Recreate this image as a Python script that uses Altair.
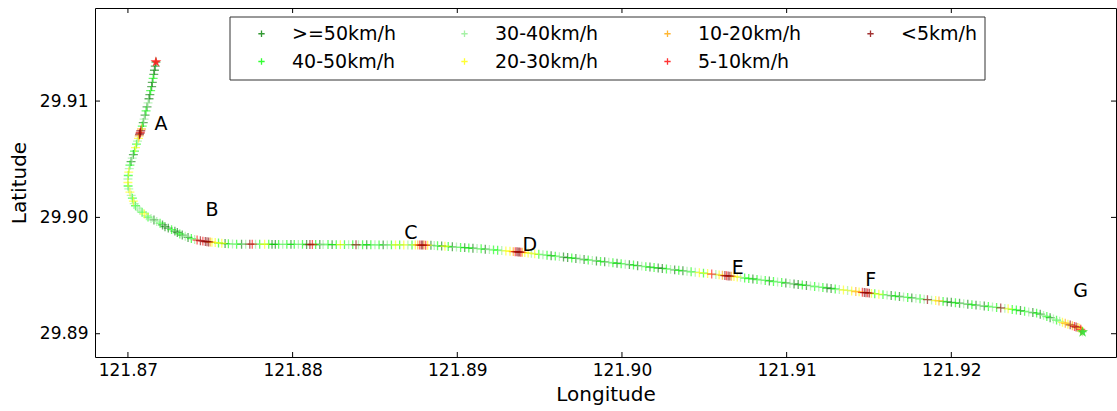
import altair as alt
import pandas as pd

SPEED_LABELS = [">=50km/h", "40-50km/h", "30-40km/h", "20-30km/h", "10-20km/h", "5-10km/h", "<5km/h"]
SPEED_COLORS = ["#008000", "#00ff00", "#90ee90", "#ffff00", "#ffa500", "#ff0000", "#8b0000"]

X_TICKS = [121.87, 121.88, 121.89, 121.90, 121.91, 121.92]
Y_TICKS = [29.89, 29.90, 29.91]

# hook: start -> A -> B
LON1 = [121.87170,121.87166,121.87161,121.87157,121.87153,121.87148,121.87144,121.87138,121.87133,121.87128,
        121.87122,121.87116,121.87110,121.87104,121.87098,121.87093,121.87087,121.87082,121.87078,121.87075,
        121.87073,121.87070,121.87068,121.87064,121.87058,121.87052,121.87046,121.87040,121.87033,121.87026,
        121.87019,121.87012,121.87008,121.87005,121.87002,121.87000,121.87000,121.87001,121.87005,121.87012,
        121.87020,121.87027,121.87033,121.87038,121.87046,121.87058,121.87072,121.87086,121.87100,121.87112,
        121.87122,121.87140,121.87158,121.87175,121.87195,121.87210,121.87225,121.87245,121.87265,121.87285,
        121.87300,121.87315,121.87330,121.87348,121.87365,121.87385,121.87405,121.87420,121.87440,121.87455,
        121.87470,121.87480,121.87490,121.87500,121.87510,121.87530,121.87550,121.87570,121.87590,121.87610]
LAT1 = [29.91336,29.91300,29.91265,29.91230,29.91195,29.91160,29.91125,29.91090,29.91055,29.91020,
        29.90985,29.90950,29.90915,29.90880,29.90845,29.90815,29.90785,29.90760,29.90745,29.90730,
        29.90722,29.90712,29.90700,29.90680,29.90655,29.90630,29.90600,29.90570,29.90540,29.90510,
        29.90480,29.90450,29.90420,29.90390,29.90360,29.90330,29.90300,29.90270,29.90245,29.90218,
        29.90190,29.90165,29.90140,29.90118,29.90100,29.90080,29.90062,29.90045,29.90030,29.90015,
        29.90003,29.89990,29.89978,29.89965,29.89950,29.89935,29.89920,29.89908,29.89895,29.89882,
        29.89870,29.89858,29.89848,29.89838,29.89828,29.89818,29.89810,29.89805,29.89800,29.89796,
        29.89793,29.89791,29.89789,29.89788,29.89787,29.89784,29.89780,29.89778,29.89775,29.89773]
CAT1 = [0,0,0,0,1,0,0,1,0,0, 2,0,1,0,2,0,1,4,6,5, 6,6,4,3,2,1,3,1,0,2, 0,1,2,3,1,2,3,1,2,3,
        2,1,3,2,1,2,2,1,3,2, 1,2,0,2,1,0,0,0,1,0, 0,1,0,2,0,1,2,5,6,5, 6,6,6,4,3,3,1,3,0,1]

# flat stretch B -> C
LON2 = [121.87635,121.87660,121.87690,121.87715,121.87740,121.87755,121.87775,121.87800,121.87830,121.87855,
        121.87875,121.87895,121.87915,121.87940,121.87965,121.87990,121.88010,121.88035,121.88060,121.88085,
        121.88105,121.88120,121.88140,121.88165,121.88185,121.88215,121.88240,121.88265,121.88290,121.88315,
        121.88340,121.88365,121.88385,121.88400,121.88425,121.88450,121.88475,121.88500,121.88525,121.88550,
        121.88575,121.88600,121.88625,121.88650,121.88675,121.88700,121.88725,121.88745]
LAT2 = [29.89771,29.89770,29.89770,29.89770,29.89770,29.89770,29.89769,29.89769,29.89769,29.89769,
        29.89768,29.89768,29.89768,29.89768,29.89768,29.89768,29.89768,29.89768,29.89768,29.89767,
        29.89767,29.89767,29.89767,29.89767,29.89767,29.89767,29.89766,29.89766,29.89766,29.89766,
        29.89766,29.89766,29.89765,29.89765,29.89765,29.89765,29.89765,29.89765,29.89764,29.89764,
        29.89764,29.89764,29.89764,29.89764,29.89763,29.89763,29.89763,29.89763]
CAT2 = [2,1,0,2,6,5,2,1,3,1, 0,0,1,2,1,0,1,2,1,0, 6,5,1,0,2,1,0,1,3,1, 2,1,6,2,1,0,1,2,1,0, 2,1,3,1,3,2,1,3]

# C -> D
LON3 = [121.88760,121.88772,121.88782,121.88790,121.88798,121.88808,121.88820,121.88840,121.88860,121.88880,
        121.88905,121.88925,121.88945,121.88970,121.88995,121.89020,121.89045,121.89070,121.89095,121.89120,
        121.89145,121.89170,121.89195,121.89220,121.89245,121.89270,121.89295,121.89320,121.89340,121.89352,
        121.89362,121.89370,121.89378,121.89386,121.89395]
LAT3 = [29.89763,29.89762,29.89762,29.89762,29.89762,29.89761,29.89761,29.89760,29.89758,29.89756,
        29.89754,29.89752,29.89750,29.89747,29.89745,29.89742,29.89740,29.89737,29.89735,29.89732,
        29.89730,29.89727,29.89724,29.89721,29.89718,29.89715,29.89712,29.89709,29.89706,29.89705,
        29.89704,29.89703,29.89702,29.89701,29.89700]
CAT3 = [4,5,6,6,4,5,3,0,2,1, 0,3,1,0,2,1,0,1,0,2, 1,0,2,1,1,2,3,3,4,5, 6,6,6,5,4]

# D -> E
LON4 = [121.89410,121.89430,121.89450,121.89470,121.89495,121.89520,121.89545,121.89570,121.89595,121.89620,
        121.89645,121.89670,121.89695,121.89720,121.89745,121.89770,121.89795,121.89820,121.89845,121.89870,
        121.89895,121.89920,121.89945,121.89970,121.89995,121.90020,121.90045,121.90070,121.90095,121.90120,
        121.90145,121.90170,
        121.90195,121.90220,121.90245,121.90270,121.90295,121.90320,121.90345,121.90370,121.90395,121.90420,
        121.90445,121.90470,121.90495,121.90520,121.90545,121.90570,121.90590,121.90610,121.90625,121.90635,
        121.90645,121.90655,121.90665,121.90680,121.90700,121.90720]
LAT4 = [29.89697,29.89694,29.89691,29.89687,29.89683,29.89679,29.89675,29.89671,29.89667,29.89663,
        29.89659,29.89655,29.89651,29.89647,29.89642,29.89638,29.89634,29.89630,29.89626,29.89622,
        29.89618,29.89614,29.89610,29.89606,29.89602,29.89598,29.89594,29.89590,29.89585,29.89581,
        29.89577,29.89573,
        29.89569,29.89565,29.89561,29.89557,29.89553,29.89549,29.89545,29.89541,29.89537,29.89533,
        29.89529,29.89525,29.89521,29.89517,29.89513,29.89509,29.89506,29.89502,29.89500,29.89498,
        29.89497,29.89495,29.89494,29.89491,29.89488,29.89485]
CAT4 = [3,3,2,3,1,2,1,0,1,2, 0,0,1,0,2,0,1,2,0,1, 0,2,1,0,1,2,0,1,0,2, 1,0,
        1,0,0,1,2,0,1,0,2,1, 2,3,1,3,5,2,3,4,6,5, 6,6,4,3,3,2]

# E -> F
LON5 = [121.90745,121.90770,121.90795,121.90820,121.90845,121.90870,121.90895,121.90920,121.90945,121.90970,
        121.90995,121.91020,121.91045,121.91070,121.91095,121.91120,121.91145,121.91170,121.91195,121.91220,
        121.91245,121.91270,121.91295,121.91320,121.91345,121.91370,121.91395,121.91420,121.91440,121.91460,
        121.91472,121.91482,121.91492,121.91502,121.91515]
LAT5 = [29.89479,29.89475,29.89471,29.89466,29.89462,29.89458,29.89454,29.89449,29.89445,29.89441,
        29.89436,29.89432,29.89428,29.89423,29.89419,29.89415,29.89411,29.89406,29.89402,29.89398,
        29.89393,29.89389,29.89385,29.89380,29.89376,29.89372,29.89368,29.89363,29.89360,29.89356,
        29.89354,29.89353,29.89351,29.89349,29.89347]
CAT5 = [1,1,0,1,2,1,0,1,2,1, 0,2,0,0,1,0,2,1,2,1, 0,0,1,2,3,2,3,4,3,5, 6,6,5,6,3]

# F -> G (end)
LON6 = [121.91535,121.91560,121.91585,121.91610,121.91635,121.91660,121.91685,121.91710,121.91735,121.91760,
        121.91785,121.91810,121.91835,121.91855,121.91880,121.91905,121.91925,121.91950,121.91975,121.92000,
        121.92025,121.92050,121.92075,121.92100,121.92125,121.92150,121.92175,121.92200,121.92225,121.92250,
        121.92275,121.92300,121.92325,121.92345,
        121.92370,121.92395,121.92420,121.92445,121.92470,121.92495,121.92518,121.92540,121.92560,121.92580,
        121.92600,121.92620,121.92639,121.92658,121.92675,121.92692,121.92708,121.92722,121.92735,121.92748,
        121.92758,121.92768,121.92779,121.92786,121.92792,121.92797]
LAT6 = [29.89344,29.89340,29.89336,29.89332,29.89328,29.89324,29.89320,29.89316,29.89312,29.89308,
        29.89304,29.89300,29.89296,29.89293,29.89289,29.89285,29.89282,29.89278,29.89274,29.89270,
        29.89266,29.89262,29.89258,29.89254,29.89250,29.89246,29.89242,29.89238,29.89234,29.89230,
        29.89226,29.89222,29.89218,29.89214,
        29.89209,29.89204,29.89199,29.89193,29.89187,29.89182,29.89177,29.89168,29.89158,29.89148,
        29.89138,29.89127,29.89117,29.89107,29.89098,29.89090,29.89082,29.89076,29.89069,29.89063,
        29.89058,29.89053,29.89048,29.89038,29.89026,29.89016]
CAT6 = [1,3,1,2,0,1,0,2,1,0, 2,1,2,6,2,3,4,1,0,0, 1,0,2,0,1,0,2,0,1,2, 1,6,2,3,
        1,1,0,1,2,0,1,0,2,1, 0,2,1,2,3,4,3,6,4,5, 6,4,3,5,4,2]

START_LON, START_LAT = [121.87170], [29.91336]
END_LON, END_LAT = [121.92797], [29.89014]

LABEL_TEXT = ["A", "B", "C", "D", "E", "F", "G"]
LABEL_LON = [121.87201, 121.87510, 121.88718, 121.89440, 121.90703, 121.91510, 121.92785]
LABEL_LAT = [29.90802, 29.90063, 29.89865, 29.89762, 29.89564, 29.89461, 29.89366]

lon = LON1 + LON2 + LON3 + LON4 + LON5 + LON6
lat = LAT1 + LAT2 + LAT3 + LAT4 + LAT5 + LAT6
cat = CAT1 + CAT2 + CAT3 + CAT4 + CAT5 + CAT6
n = min(len(lon), len(lat), len(cat))
df = pd.DataFrame({"lon": lon[:n], "lat": lat[:n], "cat": cat[:n]})
df["speed"] = [SPEED_LABELS[c] for c in df["cat"]]
df = df.sort_values("cat", kind="stable").reset_index(drop=True)

FONT = "DejaVu Sans"
W, H = 1021, 349
XSC = alt.Scale(domain=[121.868, 121.930], nice=False, zero=False)
YSC = alt.Scale(domain=[29.888, 29.918], nice=False, zero=False)
XAX = alt.Axis(values=X_TICKS, format=".2f", title="Longitude", ticks=False, domain=False, grid=False,
               labelFontSize=17, titleFontSize=20, labelPadding=5, titlePadding=6, labelFont=FONT,
               titleFont=FONT, titleFontWeight="normal", labelColor="black", titleColor="black")
YAX = alt.Axis(values=Y_TICKS, format=".2f", title="Latitude", ticks=False, domain=False, grid=False,
               labelFontSize=17, titleFontSize=20, labelPadding=7, titlePadding=10, labelFont=FONT,
               titleFont=FONT, titleFontWeight="normal", labelColor="black", titleColor="black")

PLUS = "M-1,0L1,0M0,-1L0,1"
STAR = ("M0,-1L0.225,-0.309L0.951,-0.309L0.363,0.118L0.588,0.809L0,0.382"
        "L-0.588,0.809L-0.363,0.118L-0.951,-0.309L-0.225,-0.309Z")

base_x = alt.X("lon:Q", scale=XSC, axis=XAX)
base_y = alt.Y("lat:Q", scale=YSC, axis=YAX)

points = alt.Chart(df).mark_point(shape=PLUS, filled=False, size=80, strokeWidth=1.3, opacity=0.6).encode(
    x=base_x,
    y=base_y,
    color=alt.Color(
        "speed:N",
        scale=alt.Scale(domain=SPEED_LABELS, range=SPEED_COLORS),
        legend=alt.Legend(title=None, orient="none", legendX=157, legendY=16, columns=4,
                          symbolType=PLUS, symbolSize=40, symbolStrokeWidth=1.3, symbolOpacity=0.8,
                          labelFontSize=19, labelFont=FONT, labelColor="black", labelOffset=21,
                          columnPadding=59, rowPadding=8, padding=0),
    ),
)

legend_box = alt.Chart(pd.DataFrame({"k": [0]})).mark_rect(
    fill="white", stroke="#333333", strokeWidth=1
).encode(x=alt.value(135), x2=alt.value(890), y=alt.value(9), y2=alt.value(72))

start_star = alt.Chart(pd.DataFrame({"lon": START_LON, "lat": START_LAT})).mark_point(
    shape=STAR, filled=True, size=130, color="#ff2020", opacity=0.9
).encode(x=base_x, y=base_y)

end_star = alt.Chart(pd.DataFrame({"lon": END_LON, "lat": END_LAT})).mark_point(
    shape=STAR, filled=True, size=130, color="#33dd33", opacity=0.9
).encode(x=base_x, y=base_y)

labels = alt.Chart(pd.DataFrame({"lon": LABEL_LON, "lat": LABEL_LAT, "t": LABEL_TEXT})).mark_text(
    fontSize=19, font=FONT, color="black"
).encode(x=base_x, y=base_y, text="t:N")

xt = pd.DataFrame({"lon": X_TICKS})
yt = pd.DataFrame({"lat": Y_TICKS})
tick_b = alt.Chart(xt).mark_rule(color="black", strokeWidth=1).encode(
    x=base_x, y=alt.value(H), y2=alt.value(H - 5))
tick_t = alt.Chart(xt).mark_rule(color="black", strokeWidth=1).encode(
    x=base_x, y=alt.value(0), y2=alt.value(5))
tick_l = alt.Chart(yt).mark_rule(color="black", strokeWidth=1).encode(
    y=base_y, x=alt.value(0), x2=alt.value(5))
tick_r = alt.Chart(yt).mark_rule(color="black", strokeWidth=1).encode(
    y=base_y, x=alt.value(W), x2=alt.value(W - 5))

chart = alt.layer(points, start_star, end_star, labels, legend_box,
                  tick_b, tick_t, tick_l, tick_r).properties(
    width=W, height=H,
    autosize=alt.AutoSizeParams(type="none"),
    padding={"left": 95, "top": 8, "right": 1, "bottom": 54},
    background="white",
).configure_view(stroke="black", strokeWidth=1)

chart.save("out.html", embed_options={"renderer": "svg", "actions": False})
